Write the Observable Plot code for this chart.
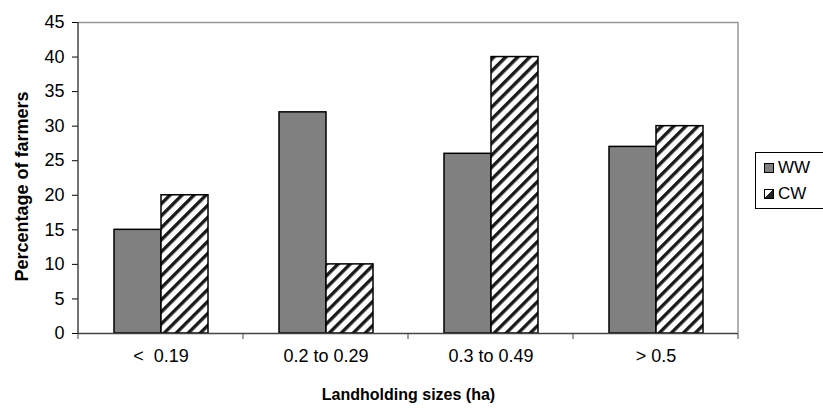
<!DOCTYPE html>
<html>
<head>
<meta charset="utf-8">
<script src="https://cdn.jsdelivr.net/npm/d3@7"></script>
<script src="https://cdn.jsdelivr.net/npm/@observablehq/plot@0.6"></script>
<style>
  html, body { margin: 0; padding: 0; background: #fff; }
  #wrap { position: relative; width: 823px; height: 408px; overflow: hidden; font-family: "Liberation Sans", Arial, sans-serif; }
  #legend { position: absolute; left: 755px; top: 152px; width: 80px; height: 57px; border: 1px solid #000; background: #fff; box-sizing: border-box; font-size: 17px; color: #000; }
  .item { position: absolute; left: 8px; display: flex; align-items: center; }
  .sw { width: 8px; height: 8px; border: 1px solid #000; margin-right: 4px; }
  #chart svg g[aria-label="fx-axis label"] text { font-weight: bold; font-size: 16px; }
  #chart svg g[aria-label="fx-axis tick label"] text, #chart svg g[aria-label="y-axis tick label"] text { font-size: 18px; }
</style>
</head>
<body>
<div id="wrap"><div id="chart"></div><div id="legend"></div></div>
<script>
const categories = ["<  0.19", "0.2 to 0.29", "0.3 to 0.49", "> 0.5"];
const seriesNames = ["WW", "CW"];
const wwValues = [15, 32, 26, 27];
const cwValues = [20, 10, 40, 30];
const yTicks = [0, 5, 10, 15, 20, 25, 30, 35, 40, 45];
const xTitle = "Landholding sizes (ha)";
const yTitle = "Percentage of farmers";

const data = categories.flatMap((c, i) => [
  {cat: c, series: "WW", value: wwValues[i]},
  {cat: c, series: "CW", value: cwValues[i]}
]);

const chart = Plot.plot({
  width: 823,
  height: 408,
  marginLeft: 76,
  marginRight: 84,
  marginTop: 22,
  marginBottom: 75,
  style: "font-family: 'Liberation Sans', Arial, sans-serif; font-size: 18px; color: #000; background: #fff;",
  fx: {domain: categories, padding: 0, label: xTitle, labelAnchor: "center", labelOffset: 66, tickSize: 0, tickPadding: 16},
  x: {domain: seriesNames, paddingInner: 0, paddingOuter: 0.73, axis: null},
  y: {domain: [0, 45], ticks: yTicks, label: null, tickSize: 6, tickPadding: 8, tickFormat: d => d},
  marks: [
    Plot.ruleY([45], {stroke: "#999", strokeWidth: 1.5}),
    Plot.barY(data.filter(d => d.series === "WW"), {fx: "cat", x: "series", y: "value", fill: "#808080", stroke: "#000", strokeWidth: 1.5}),
    Plot.barY(data.filter(d => d.series === "CW"), {fx: "cat", x: "series", y: "value", fill: "url(#hatch)", stroke: "#000", strokeWidth: 1.5}),
    Plot.ruleY([0], {stroke: "#444", strokeWidth: 1.5})
  ]
});

// hatch pattern
const svg = d3.select(chart);
const defs = svg.insert("defs", ":first-child");
const P = 8.5;
const pat = defs.append("pattern").attr("id", "hatch").attr("patternUnits", "userSpaceOnUse")
  .attr("width", P).attr("height", P).attr("patternTransform", "rotate(45)");
pat.append("rect").attr("width", P).attr("height", P).attr("fill", "#fff");
pat.append("rect").attr("x", 0).attr("y", 0).attr("width", 3.4).attr("height", P).attr("fill", "#1a1a1a");

// axis lines, boundary ticks, right frame edge and y title from the scales
const fx = chart.scale("fx");
const ys = chart.scale("y");
const y0 = ys.apply(0), yTop = ys.apply(45);
const bounds = categories.map(c => fx.apply(c)).concat([fx.apply(categories[categories.length - 1]) + fx.bandwidth]);
const left = bounds[0], right = bounds[bounds.length - 1];
const g = svg.append("g");
g.append("line").attr("x1", right).attr("x2", right).attr("y1", yTop).attr("y2", y0).attr("stroke", "#999").attr("stroke-width", 1.5);
g.append("line").attr("x1", left).attr("x2", left).attr("y1", yTop).attr("y2", y0).attr("stroke", "#444").attr("stroke-width", 1.5);
bounds.forEach(b => g.append("line").attr("x1", b).attr("x2", b).attr("y1", y0).attr("y2", y0 + 6).attr("stroke", "#444").attr("stroke-width", 1));
g.append("text")
  .attr("transform", `translate(${left - 50},${(y0 + yTop) / 2 + 9}) rotate(-90)`)
  .attr("text-anchor", "middle")
  .attr("font-weight", "bold")
  .attr("font-size", 18)
  .attr("fill", "#000")
  .text(yTitle);

document.getElementById("chart").appendChild(chart);

// legend
const legend = d3.select("#legend");
const items = [
  {name: seriesNames[0], bg: "#808080"},
  {name: seriesNames[1], bg: "linear-gradient(to bottom right, #fff 50%, #222 50%)"}
];
items.forEach((it, i) => {
  const row = legend.append("div").attr("class", "item").style("top", (5 + i * 26) + "px");
  row.append("div").attr("class", "sw").style("background", it.bg);
  row.append("span").text(it.name);
});
</script>
</body>
</html>
